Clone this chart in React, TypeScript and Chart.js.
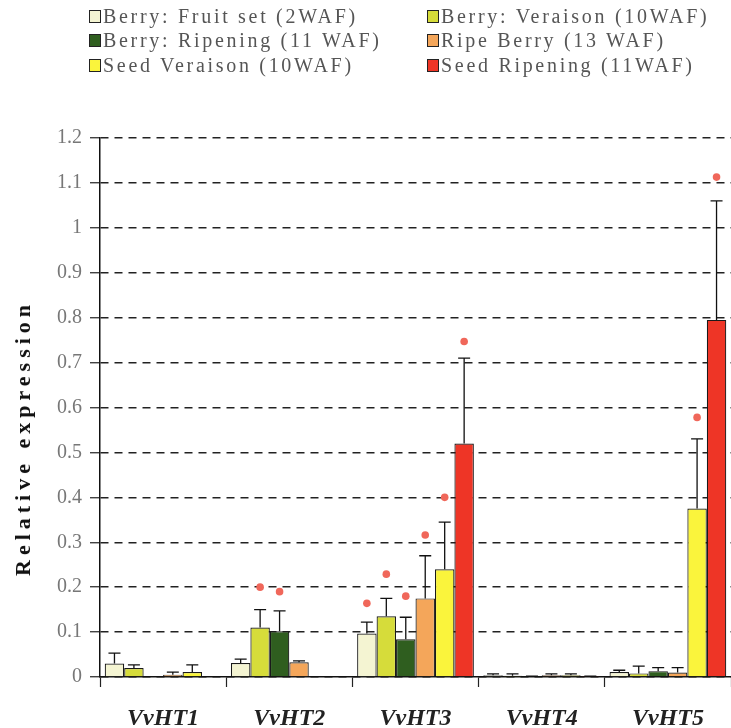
import React, { useEffect, useRef } from "react";
import { Chart, registerables } from "chart.js";

Chart.register(...registerables);

const genes = ["VvHT1", "VvHT2", "VvHT3", "VvHT4", "VvHT5"];

const seriesNames = [
  "Berry: Fruit set (2WAF)",
  "Berry: Veraison (10WAF)",
  "Berry: Ripening (11 WAF)",
  "Ripe Berry (13 WAF)",
  "Seed Veraison (10WAF)",
  "Seed Ripening (11WAF)",
];

const seriesColors = ["#F4F4D2", "#D6DC3A", "#2F5E1F", "#F4A65A", "#FAF43C", "#EE3526"];

const yAxisTitle = "Relative expression";

// mean relative expression
const berryFruitSet = [0.03, 0.031, 0.097, 0.004, 0.011];
const berryVeraison = [0.02, 0.11, 0.135, 0.003, 0.008];
const berryRipening = [0, 0.102, 0.084, 0.001, 0.013];
const ripeBerry = [0.005, 0.033, 0.175, 0.004, 0.01];
const seedVeraison = [0.011, 0, 0.24, 0.004, 0.375];
const seedRipening = [0, 0, 0.52, 0.001, 0.795];

// upper error (SD)
const berryFruitSetErr = [0.023, 0.009, 0.025, 0.003, 0.004];
const berryVeraisonErr = [0.007, 0.04, 0.04, 0.004, 0.016];
const berryRipeningErr = [0, 0.045, 0.049, 0.001, 0.008];
const ripeBerryErr = [0.006, 0.003, 0.095, 0.003, 0.011];
const seedVeraisonErr = [0.016, 0, 0.105, 0.003, 0.155];
const seedRipeningErr = [0, 0, 0.19, 0.001, 0.265];

// significance markers (red dots)
const berryFruitSetSig = [null, null, 0.164, null, null];
const berryVeraisonSig = [null, 0.2, 0.229, null, null];
const berryRipeningSig = [null, 0.19, 0.18, null, null];
const ripeBerrySig = [null, null, 0.316, null, null];
const seedVeraisonSig = [null, null, 0.4, null, 0.578];
const seedRipeningSig = [null, null, 0.747, null, 1.113];

const seriesValues = [berryFruitSet, berryVeraison, berryRipening, ripeBerry, seedVeraison, seedRipening];
const seriesErrors = [berryFruitSetErr, berryVeraisonErr, berryRipeningErr, ripeBerryErr, seedVeraisonErr, seedRipeningErr];
const seriesSig = [berryFruitSetSig, berryVeraisonSig, berryRipeningSig, ripeBerrySig, seedVeraisonSig, seedRipeningSig];

const serif = "'Liberation Serif', 'Times New Roman', serif";

const errorBarPlugin = {
  id: "errorBars",
  afterDatasetsDraw(chart: any) {
    const ctx = chart.ctx;
    const yScale = chart.scales.y;
    ctx.save();
    chart.data.datasets.forEach((ds: any, i: number) => {
      const meta = chart.getDatasetMeta(i);
      meta.data.forEach((el: any, j: number) => {
        const v = seriesValues[i][j];
        const e = seriesErrors[i][j];
        const x = el.x;
        if (e > 0) {
          const yb = yScale.getPixelForValue(v);
          const yt = yScale.getPixelForValue(v + e);
          ctx.strokeStyle = "#111";
          ctx.lineWidth = 1.3;
          ctx.beginPath();
          ctx.moveTo(x, yb);
          ctx.lineTo(x, yt);
          ctx.moveTo(x - 6, yt);
          ctx.lineTo(x + 6, yt);
          ctx.stroke();
        }
        const s = seriesSig[i][j];
        if (s != null) {
          const ys = yScale.getPixelForValue(s);
          ctx.fillStyle = "#F0675A";
          ctx.beginPath();
          ctx.arc(x, ys, 3.8, 0, Math.PI * 2);
          ctx.fill();
        }
      });
    });
    ctx.restore();
  },
};

export default function App() {
  const canvasRef = useRef<HTMLCanvasElement | null>(null);

  useEffect(() => {
    if (!canvasRef.current) return;
    const chart = new Chart(canvasRef.current, {
      type: "bar",
      data: {
        labels: genes,
        datasets: seriesNames.map((name, i) => ({
          label: name,
          data: seriesValues[i],
          backgroundColor: seriesColors[i],
          borderColor: "#1a1a1a",
          borderWidth: 1.2,
          categoryPercentage: 0.925,
          barPercentage: 1.0,
        })),
      },
      options: {
        animation: false,
        responsive: false,
        maintainAspectRatio: false,
        layout: { padding: { top: 138, right: 0, bottom: 0, left: 0 } },
        plugins: {
          legend: { display: false },
          tooltip: { enabled: false },
        },
        scales: {
          x: {
            offset: true,
            afterFit: (scale: any) => {
              scale.height = 51;
            },
            grid: {
              display: true,
              drawOnChartArea: false,
              drawTicks: true,
              tickLength: 10,
              tickColor: "#222",
              tickWidth: 1.2,
              offset: true,
            },
            border: { display: true, color: "#111", width: 1.5 },
            ticks: {
              color: "#222",
              padding: 17,
              font: { family: serif, size: 24, style: "italic", weight: "bold" },
            },
          },
          y: {
            min: 0,
            max: 1.2,
            afterFit: (scale: any) => {
              scale.width = 100;
            },
            ticks: {
              stepSize: 0.1,
              color: "#777",
              padding: 8,
              font: { family: serif, size: 20 },
              callback: (value: any) => String(Number(Number(value).toFixed(1))),
            },
            grid: {
              color: "#222",
              lineWidth: 1.5,
              tickLength: 10,
              tickColor: "#222",
              tickWidth: 1.2,
              tickBorderDash: [],
            },
            border: { display: true, color: "#111", width: 1.5, dash: [8, 6] },
          },
        },
      },
      plugins: [errorBarPlugin],
    });
    return () => chart.destroy();
  }, []);

  const legendRows = [
    [0, 1],
    [2, 3],
    [4, 5],
  ];

  return (
    <div style={{ position: "fixed", left: 0, top: 0, width: 731, height: 728, background: "#fff", overflow: "hidden" }}>
      <canvas ref={canvasRef} width={731} height={728} style={{ position: "absolute", left: 0, top: 0 }} />
      <div
        style={{
          position: "absolute",
          left: 23,
          top: 438,
          transform: "translate(-50%, -50%) rotate(-90deg)",
          fontFamily: serif,
          fontWeight: "bold",
          fontSize: 22,
          letterSpacing: "5px",
          color: "#111",
          whiteSpace: "nowrap",
        }}
      >
        {yAxisTitle}
      </div>
      {legendRows.map((row, r) =>
        row.map((idx, c) => (
          <div
            key={idx}
            style={{
              position: "absolute",
              left: c === 0 ? 89 : 427,
              top: 4 + r * 24.5,
              height: 24,
              display: "flex",
              alignItems: "center",
              fontFamily: serif,
              fontSize: 20,
              letterSpacing: "2.7px",
              color: "#555",
              whiteSpace: "nowrap",
            }}
          >
            <span
              style={{
                display: "inline-block",
                width: 10,
                height: 11,
                background: seriesColors[idx],
                border: "1.3px solid #222",
                marginRight: 2,
              }}
            />
            <span>{seriesNames[idx]}</span>
          </div>
        ))
      )}
    </div>
  );
}
